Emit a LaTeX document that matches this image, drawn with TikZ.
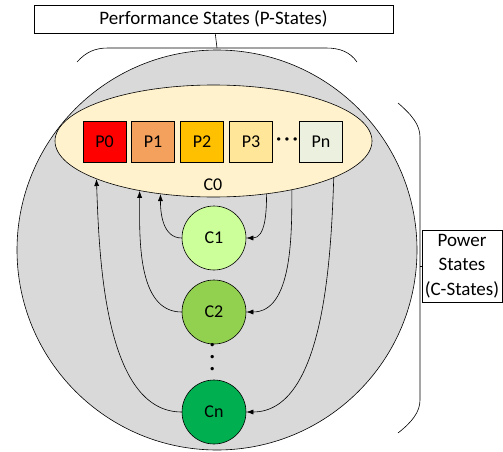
\documentclass[tikz,border=0pt]{standalone}
\usepackage{fontspec}
\setmainfont{Carlito}
\usetikzlibrary{shapes.geometric,arrows.meta}

\definecolor{stategray}{HTML}{D9D9D9}
\definecolor{czerofill}{HTML}{FFF2CC}
\definecolor{pzero}{HTML}{FF0000}
\definecolor{pone}{HTML}{F4A15D}
\definecolor{ptwo}{HTML}{FFC000}
\definecolor{pthree}{HTML}{FFE699}
\definecolor{pnfill}{HTML}{EBF1DE}
\definecolor{cone}{HTML}{CCFF99}
\definecolor{ctwo}{HTML}{92D050}
\definecolor{cnfill}{HTML}{00B050}

\begin{document}
\begin{tikzpicture}[x=1pt,y=-1pt,line width=0.6pt,
    pbox/.style={draw,minimum width=43pt,minimum height=41pt,inner sep=0pt,
      font=\fontsize{18}{20}\selectfont},
    cnode/.style={draw,circle,minimum size=64pt,inner sep=0pt,
      font=\fontsize{18}{20}\selectfont},
    titlebox/.style={draw,inner sep=0pt,font=\fontsize{19}{24.5}\selectfont},
    dotrow/.style={inner sep=0pt,font=\bfseries\fontsize{18}{20}\selectfont},
    trans/.style={-{Latex[length=7pt,width=5pt]}}]
  \useasboundingbox (0,0) rectangle (503,452);

  \draw[fill=stategray] (217,250) circle (200pt);

  \node[draw,ellipse,fill=czerofill,minimum width=317pt,minimum height=112pt,inner sep=0pt] (c0) at (213.5,141) {};
  \node[font=\fontsize{18}{20}\selectfont] (c0lbl) at (213,185) {C0};

  \node[pbox,fill=pzero] (p0) at (104.5,141.5) {P0};
  \node[pbox,fill=pone] (p1) at (153,141.5) {P1};
  \node[pbox,fill=ptwo] (p2) at (202,141.5) {P2};
  \node[pbox,fill=pthree] (p3) at (251,141.5) {P3};
  \node[dotrow] (pdots) at (287,141.5) {·\hspace{3.5pt}·\hspace{3.5pt}·};
  \node[pbox,fill=pnfill] (pn) at (321,141.5) {Pn};

  \node[cnode,fill=cone] (c1) at (214,238) {C1};
  \node[cnode,fill=ctwo] (c2) at (214,312) {C2};
  \node[dotrow,rotate=90] (cdots) at (214,357) {·\hspace{7pt}·\hspace{7pt}·};
  \node[cnode,fill=cnfill] (cn) at (214,412) {Cn};

  \draw[trans] (c1.west) to[out=180,in=-90] (c0.225);
  \draw[trans] (c2.west) to[out=180,in=-90,looseness=0.9] (c0.214);
  \draw[trans] (cn.west) to[out=180,in=-88,looseness=0.8] (c0.198);
  \draw[trans] (c0.315) to[out=-90,in=0] (c1.east);
  \draw[trans] (c0.328) to[out=-90,in=0,looseness=0.9] (c2.east);
  \draw[trans] (c0.343) to[out=-92,in=0,looseness=0.8] (cn.east);

  \node[titlebox,minimum width=359pt,minimum height=28pt] (ptitle) at (213.5,19) {Performance States (P-States)};
  \draw (77,62) .. controls (86,52) and (95,48) .. (108,48) -- (326,48) .. controls (340,48) and (350,52) .. (357,62);
  \coordinate (pbrace) at (217,48);
  \draw (pbrace) -- (ptitle);

  \node[titlebox,align=center,minimum width=80pt,minimum height=72pt] (cstates) at (462,266) {Power\\States\\(C-States)};
  \draw (398,103) .. controls (412,115) and (420,125) .. (420,137) -- (420,400) .. controls (420,412) and (412,422) .. (398,433);
  \coordinate (cbrace) at (420,266);
  \draw (cbrace) -- (cstates);
\end{tikzpicture}
\end{document}
